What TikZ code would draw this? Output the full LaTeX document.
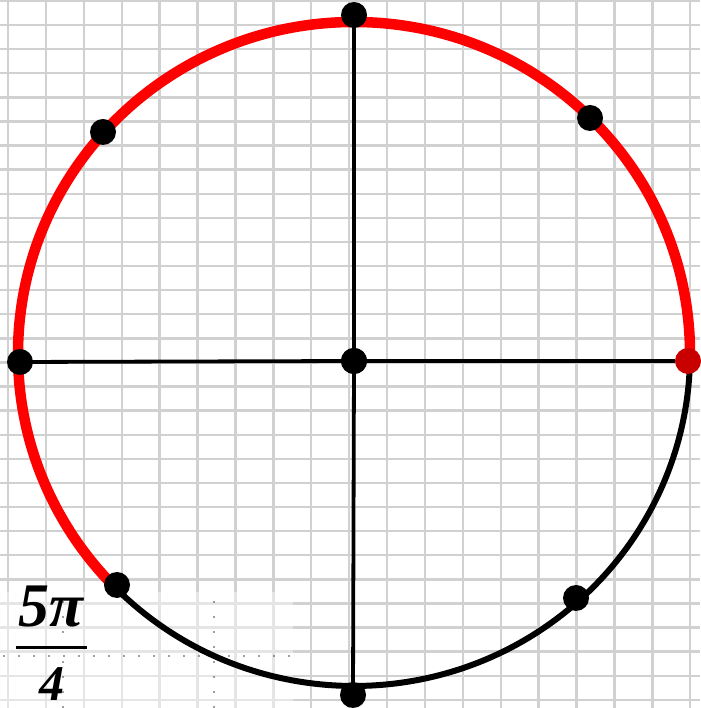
\documentclass[tikz,border=0pt]{standalone}
\usepackage{fontspec}
\setmainfont{Liberation Serif}
\begin{document}
\begin{tikzpicture}[x=1pt,y=1pt,
  gridline/.style={draw=gray!36,line width=2.4pt},
  dotnode/.style={circle,fill=black,inner sep=0pt,minimum size=26pt},
  axisline/.style={draw=black,line width=3.8pt},
  dotgrid/.style={draw=black!75,line width=1.6pt,line cap=round,dash pattern=on 0pt off 15pt},
  fractext/.style={inner sep=0pt,anchor=base}]
\useasboundingbox (0,0) rectangle (700,708);
\fill[white] (0,0) rectangle (700,708);
% grid
\foreach \k in {0,...,18} {\draw[gridline] ({8+37.9*\k},0) -- ({8+37.9*\k},708);}
\foreach \k in {0,...,29} {\draw[gridline] (0,{707-24.1*\k}) -- (700,{707-24.1*\k});}
% label panel
\fill[white,opacity=0.45] (0,0) rectangle (293,116);
\draw[dotgrid] (4,52) -- (293,52);
\draw[dotgrid] (214,1) -- (214,116);
\draw[dotgrid] (63,1) -- (63,116);
% circle arcs
\draw[black,line width=6pt] ([shift={(224.5:336 and 332)}]354,354) arc[start angle=224.5,end angle=360,x radius=336,y radius=332];
\draw[red,line width=10.5pt] ([shift={(0:336 and 332)}]354,354) arc[start angle=0,end angle=224.5,x radius=336,y radius=332];
% points
\node[dotnode] (T) at (354,693) {};
\node[dotnode] (B) at (353,13) {};
\node[dotnode] (L) at (20,346) {};
\node[dotnode,fill={rgb,255:red,200;green,0;blue,0}] (R) at (688,347) {};
\node[dotnode] (O) at (354,347) {};
\node[dotnode] (UL) at (103,576) {};
\node[dotnode] (UR) at (590,590) {};
\node[dotnode] (LL) at (117,123) {};
\node[dotnode] (LR) at (576,110) {};
\draw[axisline] (L.center) -- (O.center) -- (R.west);
\draw[axisline] (T.center) -- (O.center) -- (B.center);
\node[dotnode] (O2) at (O.center) {};
% fraction
\node[fractext,font=\fontsize{62}{62}\selectfont\bfseries\itshape] (num) at (51,81) {5π};
\node[fractext,font=\fontsize{50}{50}\selectfont\bfseries\itshape] (den) at (52,7) {4};
\draw[black,line width=3pt] (16,60) -- (87,60);
\end{tikzpicture}
\end{document}
